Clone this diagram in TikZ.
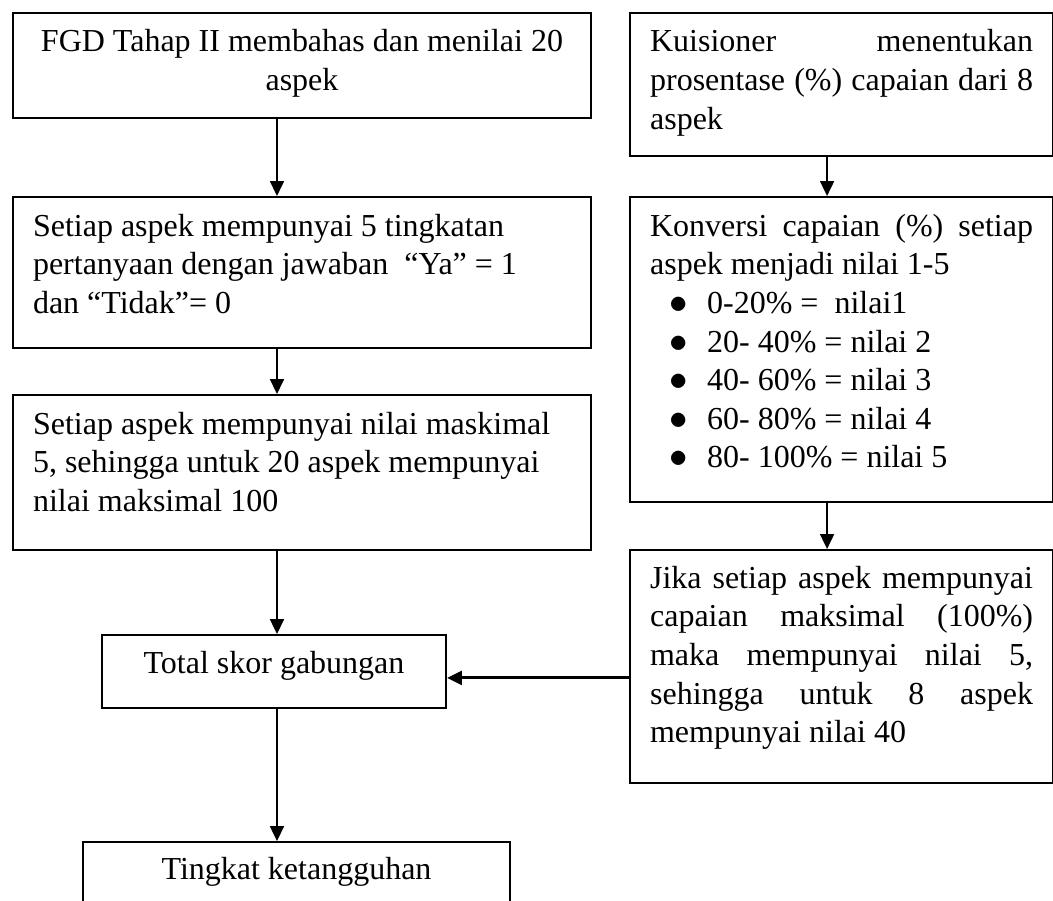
\documentclass[tikz,border=0pt]{standalone}
\usepackage{fontspec}
\setmainfont{Liberation Serif}
\usetikzlibrary{arrows.meta}
\usetikzlibrary{positioning}
\newcommand{\butir}[1]{\par\makebox[21.4pt]{\scalebox{1.15}{$\bullet$}}#1}

\begin{document}
\begin{tikzpicture}
  \tikzset{
    kotak/.style={draw,line width=0.75pt,anchor=north west,inner xsep=0.264cm,inner ysep=0pt,
      font=\fontsize{12pt}{14.5pt}\selectfont,text height=0.514cm},
    kiri/.style={kotak,text width=7.091cm,align=flush left},
    kanan/.style={kotak,text width=5.048cm,align=justify},
    panah/.style={-{Triangle[length=5.6pt,width=5.2pt]},line width=0.75pt},
  }
  \useasboundingbox (0,0) rectangle (13.88,-11.87);
  \coordinate (lx) at (3.651,0);
  \coordinate (rx) at (10.902,0);
  \coordinate (hy) at (0,-8.936);
  \node[kiri,align=flush center,text depth=0.870cm] (fgd) at (0.158,-0.158) {FGD Tahap II membahas dan menilai 20\\aspek};
  \node[kiri,text depth=1.476cm] (tingkat) at (0.158,-2.584) {Setiap aspek mempunyai 5 tingkatan\\pertanyaan dengan jawaban \ “Ya” = 1\\dan “Tidak”= 0};
  \node[kiri,text depth=1.529cm] (maks) at (0.158,-5.194) {Setiap aspek mempunyai nilai maskimal\\5, sehingga untuk 20 aspek mempunyai\\nilai maksimal 100};
  \node[kanan,text depth=1.371cm] (kuis) at (8.292,-0.158) {Kuisioner menentukan\linebreak prosentase (\%) capaian dari 8\linebreak aspek};
  \node[kanan,text depth=3.507cm] (konv) at (8.292,-2.584) {Konversi capaian (\%) setiap\linebreak aspek menjadi nilai 1-5
    \butir{0-20\% = \ nilai1}
    \butir{20- 40\% = nilai 2}
    \butir{40- 60\% = nilai 3}
    \butir{60- 80\% = nilai 4}
    \butir{80- 100\% = nilai 5}};
  \node[kanan,text height=0.501cm,text depth=2.571cm] (jika) at (8.292,-7.237) {Jika setiap aspek mempunyai\linebreak capaian maksimal (100\%)\linebreak maka mempunyai nilai 5,\linebreak sehingga untuk 8 aspek\linebreak mempunyai nilai 40};
  \node[kotak,align=flush center,text width=4.007cm,text height=0.501cm,text depth=0.461cm] (total) at (1.331,-8.358) {Total skor gabungan};
  \node[kotak,align=flush center,text width=5.101cm,text height=0.488cm,text depth=0.475cm] (hasil) at (1.081,-11.087) {Tingkat ketangguhan};
  \foreach \a/\b/\c in {fgd/tingkat/lx, tingkat/maks/lx, maks/total/lx, total/hasil/lx, kuis/konv/rx, konv/jika/rx} {
    \draw[panah] (\a.south -| \c) -- (\b.north -| \c);
  }
  \draw[panah,line width=1.1pt] (jika.west |- hy) -- (total.east |- hy);
\end{tikzpicture}
\end{document}
